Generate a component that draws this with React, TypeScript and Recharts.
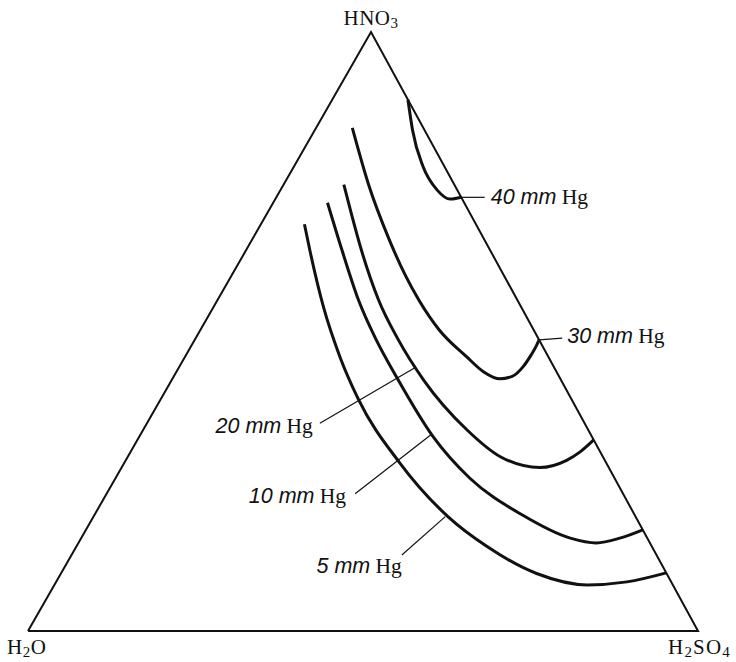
import React from "react";
import { LineChart, Line, XAxis, YAxis } from "recharts";

// compositions as [HNO3 %, H2SO4 %]; H2O is the rest
const corners = [
  [0, 0],
  [0, 100],
  [100, 0],
  [0, 0],
];
const cornerNames = ["H2O", "H2SO4", "HNO3"];

const curve40 = [
  [88.7, 11.3], [83.6, 14.6], [77.5, 19.3], [73.6, 23.4], [72.1, 26.1], [72.4, 27.6],
];
const curve30 = [
  [84.0, 5.4], [74.5, 12.7], [65.3, 20.5], [59.4, 25.9], [55.3, 30.0], [50.3, 35.6],
  [45.8, 42.0], [43.3, 45.8], [42.1, 48.9], [42.5, 50.5], [44.1, 51.3], [46.1, 51.5],
  [47.6, 51.5], [48.6, 51.4],
];
const curve20 = [
  [74.5, 9.0], [69.4, 12.8], [63.6, 17.2], [55.3, 24.0], [48.6, 30.4], [41.9, 37.6],
  [33.6, 48.3], [29.1, 55.6], [27.3, 62.4], [28.5, 65.8], [29.9, 67.1], [31.9, 68.1],
];
const curve10 = [
  [71.5, 8.1], [63.6, 14.3], [55.3, 21.0], [48.6, 27.1], [42.4, 33.3], [32.4, 43.9],
  [25.5, 52.9], [19.4, 63.8], [15.5, 73.0], [14.7, 77.3], [15.5, 80.4], [16.9, 83.1],
];
const curve5 = [
  [67.9, 6.5], [63.6, 9.5], [54.1, 16.4], [45.8, 23.1], [38.8, 29.4], [28.0, 41.2],
  [19.1, 52.9], [14.1, 61.3], [9.6, 71.0], [7.7, 79.5], [8.2, 85.2], [9.7, 90.3],
];

const pressures = [40, 30, 20, 10, 5];
const leaders = [
  [[72.4, 27.6], [72.4, 31.1]],
  [[48.6, 51.4], [48.9, 54.7]],
  [[43.9, 35.2], [34.7, 25.8]],
  [[32.8, 43.4], [22.9, 37.1]],
  [[19.1, 52.5], [12.7, 49.3]],
];

// layout: apex sits slightly right of the base centre in the figure
const APEX = 343 / 670;
const toXY = (pts: number[][]) =>
  pts.map(([a, b]) => ({ x: b / 100 + (APEX * a) / 100, y: a / 100 }));

const labelPos = [
  { dx: 6, dy: 7, anchor: "start" },
  { dx: 5, dy: 5, anchor: "start" },
  { dx: -7, dy: 10, anchor: "end" },
  { dx: -9, dy: 9, anchor: "end" },
  { dx: 0, dy: 18, anchor: "end" },
];

const cornerPos = [
  { dx: -21, dy: 23, anchor: "start" },
  { dx: -30, dy: 23, anchor: "start" },
  { dx: 0, dy: -7, anchor: "middle" },
];

const serif = "'Liberation Serif', 'Times New Roman', serif";
const sans = "'Liberation Sans', Arial, sans-serif";

function Formula({ text }: { text: string }) {
  // digits become subscripts
  const parts = text.split(/(\d)/).filter(Boolean);
  let low = false;
  return (
    <>
      {parts.map((p, i) => {
        const isNum = /\d/.test(p);
        const dy = isNum && !low ? 3 : !isNum && low ? -3 : 0;
        low = isNum;
        return (
          <tspan key={i} dy={dy} fontSize={isNum ? 15 : 21}>
            {p}
          </tspan>
        );
      })}
    </>
  );
}

const cornerLabel = (props: any) => {
  const { x, y, index } = props;
  if (index > 2) return null;
  const pos = cornerPos[index];
  return (
    <text
      key={`c${index}`}
      x={x + pos.dx}
      y={y + pos.dy}
      textAnchor={pos.anchor}
      fontFamily={serif}
      fontSize={21}
      fill="#111"
      letterSpacing={index === 1 ? 1.2 : 0.5}
    >
      <Formula text={cornerNames[index]} />
    </text>
  );
};

const leaderLabel = (k: number) => (props: any) => {
  const { x, y, index } = props;
  if (index !== 1) return null;
  const pos = labelPos[k];
  return (
    <text
      key={`l${k}`}
      x={x + pos.dx}
      y={y + pos.dy}
      textAnchor={pos.anchor}
      fill="#111"
      fontSize={21.5}
    >
      <tspan fontFamily={sans} fontStyle="italic">
        {pressures[k]} mm
      </tspan>
      <tspan fontFamily={serif}> Hg</tspan>
    </text>
  );
};

const curves = [curve40, curve30, curve20, curve10, curve5];

export default function App() {
  return (
    <div style={{ position: "absolute", left: 0, top: 0, background: "#fff" }}>
      <LineChart
        width={736}
        height={662}
        margin={{ top: 32, right: 38, bottom: 31, left: 28 }}
      >
        <XAxis type="number" dataKey="x" domain={[0, 1]} hide />
        <YAxis type="number" dataKey="y" domain={[0, 1]} hide />
        <Line
          data={toXY(corners)}
          dataKey="y"
          type="linear"
          stroke="#111"
          strokeWidth={2}
          dot={false}
          activeDot={false}
          label={cornerLabel}
          isAnimationActive={false}
        />
        {curves.map((c, i) => (
          <Line
            key={`curve${pressures[i]}`}
            data={toXY(c)}
            dataKey="y"
            type="monotone"
            stroke="#111"
            strokeWidth={3}
            dot={false}
            activeDot={false}
            isAnimationActive={false}
          />
        ))}
        {leaders.map((l, i) => (
          <Line
            key={`leader${pressures[i]}`}
            data={toXY(l)}
            dataKey="y"
            type="linear"
            stroke="#111"
            strokeWidth={1.2}
            dot={false}
            activeDot={false}
            label={leaderLabel(i)}
            isAnimationActive={false}
          />
        ))}
      </LineChart>
    </div>
  );
}
